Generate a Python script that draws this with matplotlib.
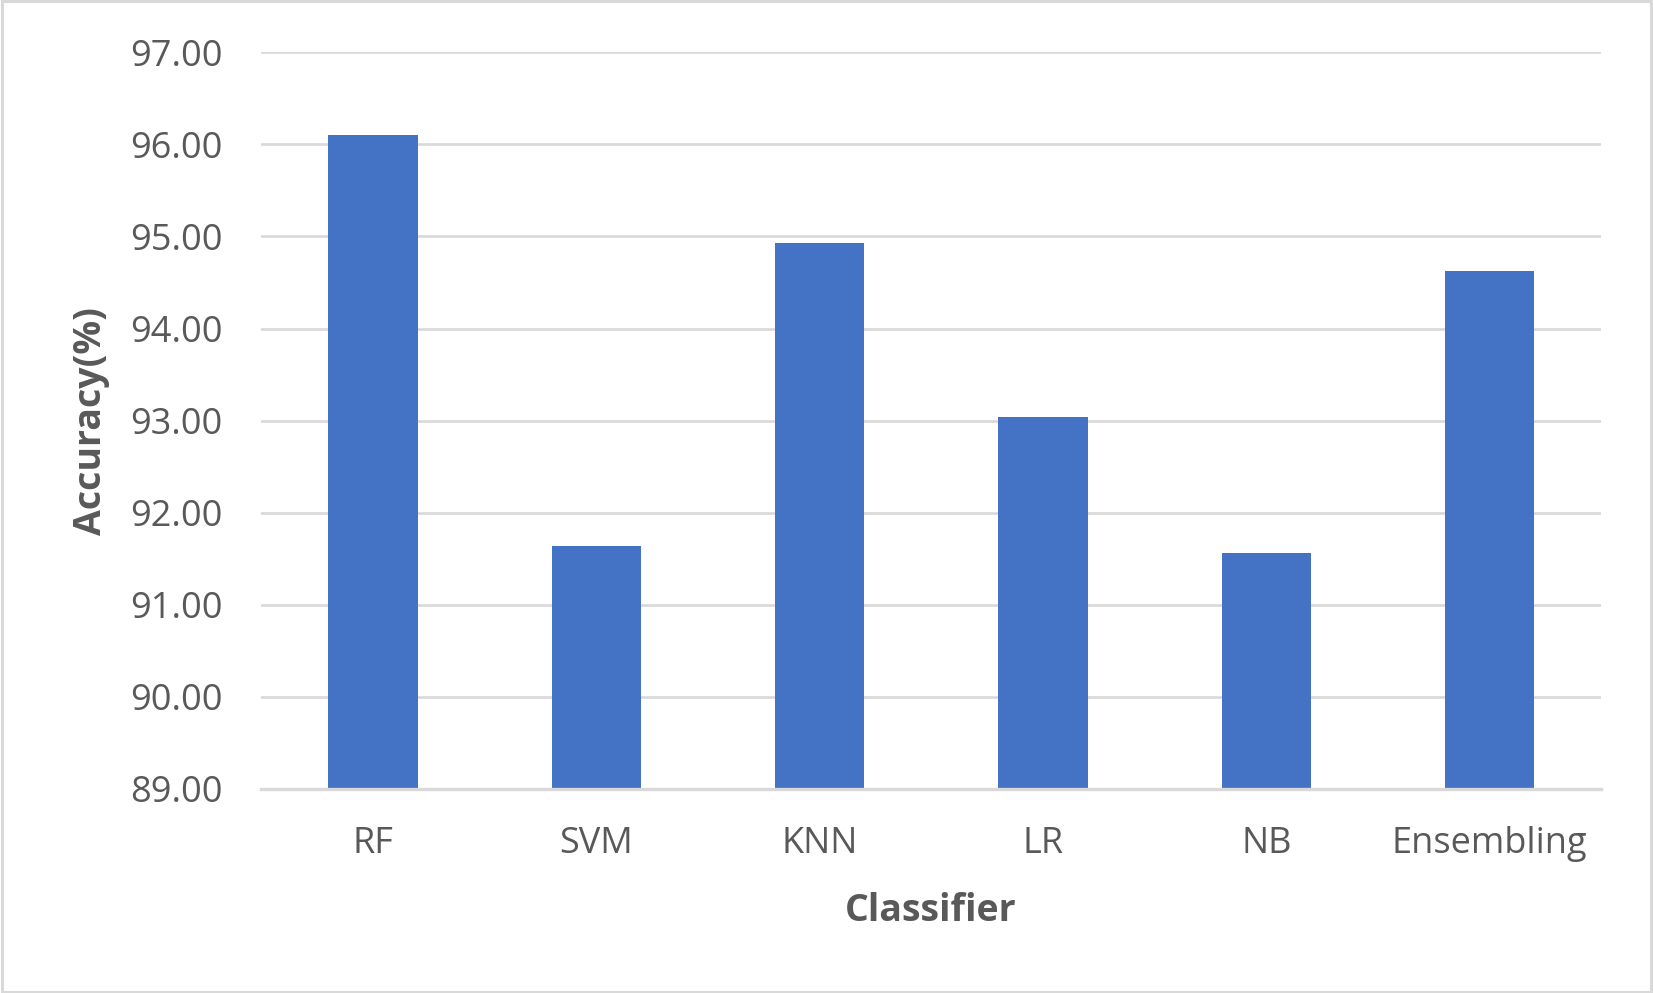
import matplotlib
matplotlib.use("Agg")
import matplotlib.pyplot as plt
from matplotlib.patches import Rectangle

categories = ["RF", "SVM", "KNN", "LR", "NB", "Ensembling"]
accuracy = [96.10, 91.64, 94.93, 93.04, 91.56, 94.62]
yticks = [89, 90, 91, 92, 93, 94, 95, 96, 97]

plt.rcParams['font.family'] = ['Open Sans', 'DejaVu Sans']
TXT = '#595959'
GRID = '#D9D9D9'
BAR = '#4472C4'

W, H = 1653, 993
fig = plt.figure(figsize=(W / 100, H / 100), dpi=100)
fig.patch.set_facecolor('white')

ax = fig.add_axes([261.4 / W, 1 - 789 / H, (1601.4 - 261.4) / W, (789 - 52.3) / H])
x = list(range(len(categories)))
ax.bar(x, accuracy, width=0.40, color=BAR, zorder=3, bottom=0)
ax.set_xlim(-0.5, len(categories) - 0.5)
ax.set_ylim(89, 97)
ax.set_yticks(yticks)
ax.set_yticklabels([f"{v:.2f}" for v in yticks])
ax.set_xticks(x)
ax.set_xticklabels(categories)
ax.grid(axis='y', color=GRID, linewidth=1.9, zorder=0)
ax.set_axisbelow(True)
for s in ['top', 'right', 'left']:
    ax.spines[s].set_visible(False)
ax.spines['bottom'].set_color(GRID)
ax.spines['bottom'].set_linewidth(2.4)
ax.spines['bottom'].set_zorder(4)
ax.tick_params(axis='y', length=0, pad=28, labelsize=26, labelcolor=TXT)
ax.tick_params(axis='x', length=0, pad=26.5, labelsize=26, labelcolor=TXT)

fig.text(90.6 / W, 1 - 420.7 / H, "Accuracy(%)", rotation=90, ha='center', va='center',
         fontsize=27, fontweight='bold', color=TXT)
fig.text(931 / W, 1 - 911 / H, "Classifier", ha='center', va='center',
         fontsize=27, fontweight='bold', color=TXT)

fig.patches.append(Rectangle((0.001, 0.0015), 0.998, 0.997, transform=fig.transFigure,
                             fill=False, edgecolor=GRID, linewidth=2.2, zorder=10))

fig.savefig("out.png", dpi=100, facecolor='white')
